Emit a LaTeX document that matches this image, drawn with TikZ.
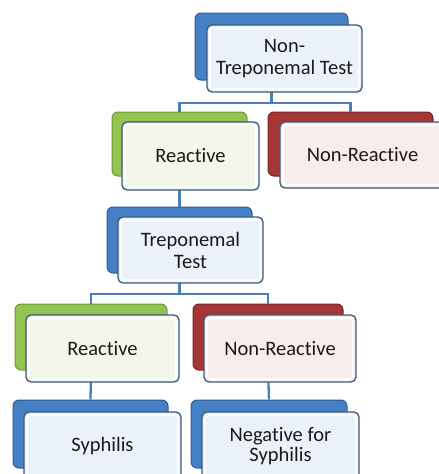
\documentclass[tikz,border=0pt]{standalone}
\usepackage{fontspec}
\setmainfont{Carlito}[Ligatures=NoCommon]
\definecolor{bluebk}{HTML}{4580C4}
\definecolor{bluebd}{HTML}{2D5E96}
\definecolor{greenbk}{HTML}{92C353}
\definecolor{greenbd}{HTML}{6E9A32}
\definecolor{redbk}{HTML}{A53636}
\definecolor{redbd}{HTML}{7A2222}
\definecolor{bluetint}{HTML}{EBF1F9}
\definecolor{greentint}{HTML}{F3F7EA}
\definecolor{redtint}{HTML}{F7EDED}
\definecolor{frontbd}{HTML}{3D5878}
\definecolor{linkc}{HTML}{4A7EBB}
\definecolor{txt}{HTML}{1A1A1A}
\begin{document}
\begin{tikzpicture}[x=1pt,y=-1pt,
  back/.style={draw, line width=1pt, rounded corners=6pt, inner sep=0pt},
  bblue/.style={back, fill=bluebk, draw=bluebd},
  bgreen/.style={back, fill=greenbk, draw=greenbd},
  bred/.style={back, fill=redbk, draw=redbd},
  front/.style={draw=frontbd, line width=1.3pt, rounded corners=5pt, inner sep=0pt,
    align=center, text=txt, font=\fontsize{20.5}{22}\selectfont,
    path picture={\draw[white, line width=2pt, opacity=0.8, rounded corners=3pt]
      ([shift={(3pt,-3pt)}]path picture bounding box.north west) rectangle
      ([shift={(-3pt,3pt)}]path picture bounding box.south east);}},
  fblue/.style={front, fill=bluetint},
  fgreen/.style={front, fill=greentint},
  fred/.style={front, fill=redtint},
  link/.style={draw=linkc, line width=2.3pt}]
\useasboundingbox (0,0) rectangle (439,474);
\clip (0,0) rectangle (439,474);
% back boxes
\node[bblue, minimum width=153pt, minimum height=67pt] (tb) at (271.5,46.5) {};
\node[bgreen, minimum width=135pt, minimum height=64pt] (r2b) at (179.5,144) {};
\node[bred, minimum width=165pt, minimum height=64pt] (n2b) at (350.5,144) {};
\node[bblue, minimum width=145pt, minimum height=66pt] (t3b) at (179.5,240) {};
\node[bgreen, minimum width=152pt, minimum height=66pt] (r3b) at (91,337) {};
\node[bred, minimum width=150pt, minimum height=66pt] (n3b) at (268,337) {};
\node[bblue, minimum width=155pt, minimum height=68pt] (sb) at (90.5,434) {};
\node[bblue, minimum width=156pt, minimum height=68pt] (gb) at (269,434) {};
% connectors
\coordinate (j1) at (271.5,103);
\coordinate (j2) at (179.5,294);
\draw[link] (tb.south) -- (j1) -| (r2b.north);
\draw[link] (j1) -| (n2b.north);
\draw[link] (r2b.south) -- (t3b.north);
\draw[link] (t3b.south) -- (j2) -| (r3b.north);
\draw[link] (j2) -| (n3b.north);
\draw[link] (r3b.south) -- (sb.north);
\draw[link] (n3b.south) -- (gb.north);
% front boxes
\node[fblue, minimum width=155pt, minimum height=67pt] (tf) at (284.5,58.5) {Non-\\Treponemal Test};
\node[fgreen, minimum width=137pt, minimum height=68pt] (r2f) at (190.5,156) {Reactive};
\node[fred, minimum width=165pt, minimum height=66pt] (n2f) at (362.5,155) {Non-Reactive};
\node[fblue, minimum width=145pt, minimum height=66pt] (t3f) at (190.5,250) {Treponemal\\Test};
\node[fgreen, minimum width=153pt, minimum height=67pt] (r3f) at (102.5,348.5) {Reactive};
\node[fred, minimum width=152pt, minimum height=67pt] (n3f) at (280,348.5) {Non-Reactive};
\node[fblue, minimum width=157pt, minimum height=68pt] (sf) at (102.5,446) {\raisebox{3pt}{Syphilis}};
\node[fblue, minimum width=157pt, minimum height=68pt] (gf) at (280.5,446) {\raisebox{2pt}{\shortstack{Negative for\\[0pt]Syphilis}}};
\end{tikzpicture}
\end{document}
